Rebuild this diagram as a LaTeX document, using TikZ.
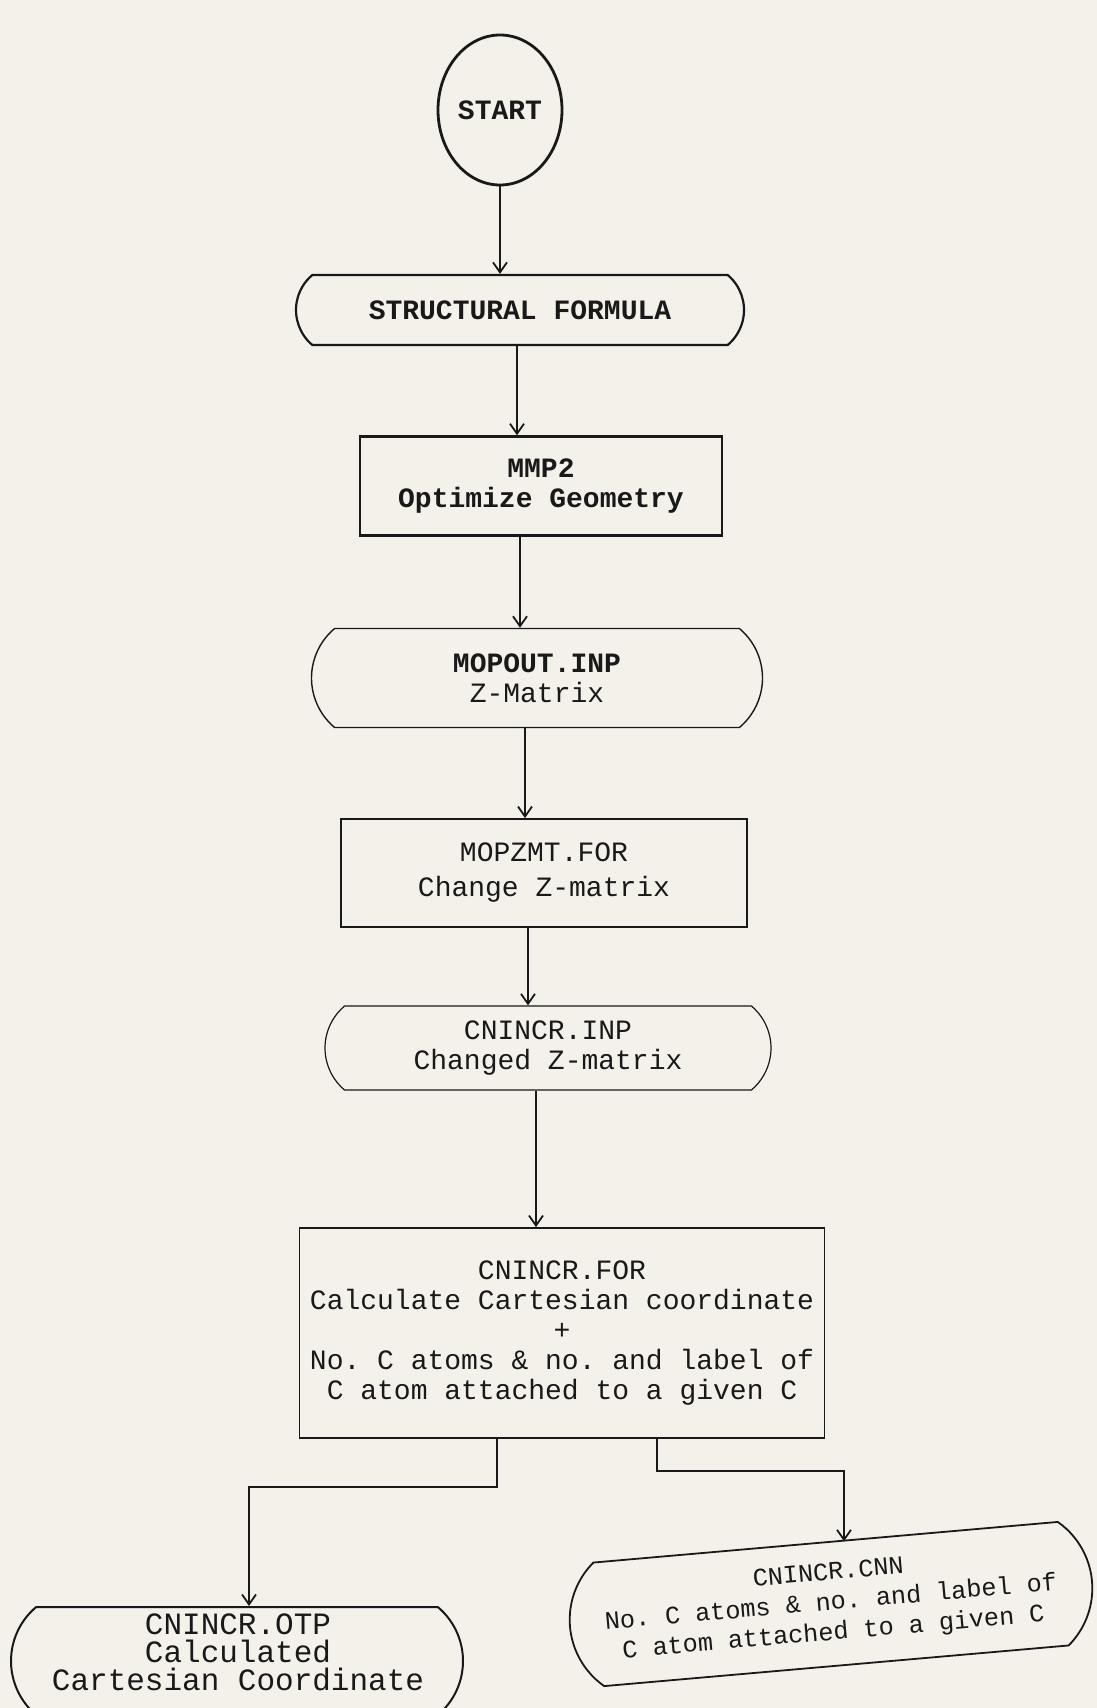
\documentclass[tikz,border=0pt]{standalone}
\usepackage{fontspec}
\setmonofont{Liberation Mono}
\usetikzlibrary{shapes.geometric,shapes.misc,arrows.meta}
\definecolor{paper}{RGB}{243,241,234}
\definecolor{ink}{RGB}{25,25,25}
\begin{document}
\begin{tikzpicture}[x=0.5pt,y=-0.5pt,
  base/.style={draw=ink, text=ink, align=center, inner sep=0pt,
    font=\ttfamily\fontsize{14}{15}\selectfont},
  plaintext/.style={text=ink, align=center, inner sep=0pt},
  term/.style={base, rounded rectangle, rounded rectangle arc length=100},
  procbox/.style={base, rectangle},
  arr/.style={draw=ink, line width=0.9pt, -{Straight Barb[length=5pt,width=7pt]}}
]
\fill[paper] (0,0) rectangle (1097,1708);
\useasboundingbox (0,0) rectangle (1097,1708);

\node[base, ellipse, minimum width=62pt, minimum height=75pt, inner xsep=-4pt, line width=1.4pt]
  (start) at (500,110) {\textbf{START}};
\node[term, minimum width=224pt, minimum height=35pt, line width=1.1pt]
  (sf) at (520,310) {\textbf{STRUCTURAL FORMULA}};
\node[procbox, minimum width=181pt, minimum height=49.5pt, line width=1.2pt]
  (mmp) at (541,486) {\textbf{MMP2}\\\textbf{Optimize Geometry}};
\node[term, minimum width=225.5pt, minimum height=49.5pt, line width=0.7pt]
  (mopout) at (537,678) {\textbf{MOPOUT.INP}\\Z-Matrix};
\node[procbox, minimum width=203pt, minimum height=54pt, line width=0.9pt,
  font=\ttfamily\fontsize{14}{17.5}\selectfont]
  (mopzmt) at (544,873) {MOPZMT.FOR\\Change Z-matrix};
\node[term, minimum width=223pt, minimum height=42pt, line width=0.6pt]
  (inp) at (548,1048) {CNINCR.INP\\Changed Z-matrix};
\node[procbox, minimum width=262.5pt, minimum height=105pt, line width=0.9pt]
  (cnfor) at (562,1333) {CNINCR.FOR\\Calculate Cartesian coordinate\\+\\No. C atoms \& no. and label of\\C atom attached to a given C};
\node[term, minimum width=226pt, minimum height=54pt, line width=1pt]
  (otp) at (237,1661) {};
\node[plaintext, font=\ttfamily\fontsize{15.5}{14}\selectfont]
  (otptext) at (238,1652) {CNINCR.OTP\\Calculated\\Cartesian Coordinate};
\node[term, minimum width=262pt, minimum height=62pt, line width=0.9pt, rotate=5,
  font=\ttfamily\fontsize{12.6}{15}\selectfont]
  (cnn) at (831,1604) {CNINCR.CNN\\No. C atoms \& no. and label of\\C atom attached to a given C};

\coordinate (lcorner) at (249,1487);
\coordinate (rcorner) at (844,1471);

\draw[arr] (start.south) -- (start.south |- sf.north);
\draw[arr] ([xshift=-1.5pt]sf.south) -- ([xshift=-1.5pt]sf.south |- mmp.north);
\draw[arr] ([xshift=-10.5pt]mmp.south) -- ([xshift=-10.5pt]mmp.south |- mopout.north);
\draw[arr] ([xshift=-6pt]mopout.south) -- ([xshift=-6pt]mopout.south |- mopzmt.north);
\draw[arr] ([xshift=-8pt]mopzmt.south) -- ([xshift=-8pt]mopzmt.south |- inp.north);
\draw[arr] ([xshift=-6pt]inp.south) -- ([xshift=-6pt]inp.south |- cnfor.north);
\draw[arr] ([xshift=-32.5pt]cnfor.south) |- (lcorner) -- (lcorner |- otp.north);
\draw[arr] ([xshift=47.5pt]cnfor.south) |- (rcorner) -- (rcorner |- cnn.north);
\end{tikzpicture}
\end{document}
